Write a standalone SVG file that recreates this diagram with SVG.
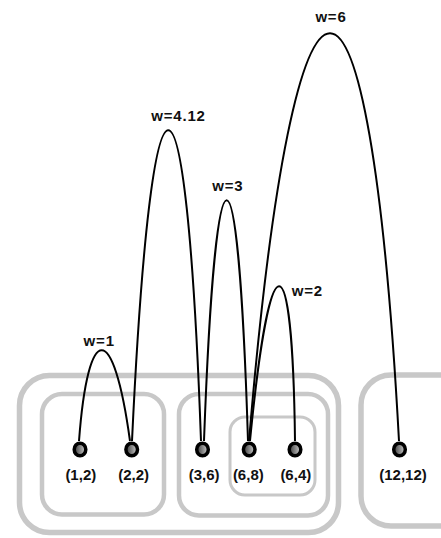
<svg xmlns="http://www.w3.org/2000/svg" width="441" height="538" viewBox="0 0 441 538">
<style>
.grp{fill:none;stroke:#c8c8c8}
.edge{fill:none;stroke:#000;stroke-width:2}
.node{fill:url(#ng);stroke:#000;stroke-width:3.5}
.lbl{font-family:"Liberation Sans",Arial,sans-serif;font-weight:bold;font-size:15px;fill:#111;text-anchor:middle}
.wl{font-family:"Liberation Sans",Arial,sans-serif;font-weight:bold;font-size:15px;fill:#111;letter-spacing:0.8px}
</style>
<defs>
<linearGradient id="ng" x1="0" y1="0" x2="1" y2="0">
<stop offset="0" stop-color="#3a3a3a"/>
<stop offset="1" stop-color="#d0d0d0"/>
</linearGradient>
</defs>
<rect width="441" height="538" fill="#fff"/>
<g id="groups">
<rect id="g-outer" class="grp" x="19.5" y="375.5" width="319" height="157" rx="30" stroke-width="5.5"/>
<rect id="g-right" class="grp" x="361" y="375" width="110" height="151" rx="30" stroke-width="5.5"/>
<rect id="g-left" class="grp" x="42" y="394" width="122" height="120.5" rx="20" stroke-width="4.5" stroke="#cdcdcd"/>
<rect id="g-mid" class="grp" x="179" y="394" width="149" height="121.5" rx="20" stroke-width="4.5" stroke="#cdcdcd"/>
<rect id="g-inner" class="grp" x="230" y="417" width="85" height="78" rx="15" stroke-width="3" stroke="#d2d2d2"/>
</g>
<g id="connectors">
<path class="edge" d="M79,441 C88,320 113.5,320 130,441"/>
<path class="edge" d="M132,441 C151.6,26.7 186.1,26.7 201,441"/>
<path class="edge" d="M204,441 C215.9,120 237.9,120 248,441"/>
<path class="edge" d="M249,441 C294.5,-102.7 369.5,-102.7 399,441"/>
<path class="edge" d="M250,441 C270,234.7 292.5,234.7 295,441"/>
<text class="wl" x="99.2" y="346" text-anchor="middle">w=1</text>
<text class="wl" x="178.5" y="120.7" text-anchor="middle">w=4.12</text>
<text class="wl" x="227.8" y="190.7" text-anchor="middle">w=3</text>
<text class="wl" x="331" y="21.7" text-anchor="middle">w=6</text>
<text class="wl" x="291.7" y="296">w=2</text>
</g>
<g id="n12">
<ellipse class="node" cx="80" cy="449.5" rx="5.8" ry="6.3"/>
<text class="lbl" x="80.8" y="479.5">(1,2)</text>
</g>
<g id="n22">
<ellipse class="node" cx="131.7" cy="449.5" rx="5.8" ry="6.3"/>
<text class="lbl" x="133.7" y="479.5">(2,2)</text>
</g>
<g id="n36">
<ellipse class="node" cx="202.5" cy="449.5" rx="5.8" ry="6.3"/>
<text class="lbl" x="204.2" y="479.5">(3,6)</text>
</g>
<g id="n68">
<ellipse class="node" cx="249.2" cy="449.5" rx="5.8" ry="6.3"/>
<text class="lbl" x="248.3" y="479.5">(6,8)</text>
</g>
<g id="n64">
<ellipse class="node" cx="295" cy="449.5" rx="5.8" ry="6.3"/>
<text class="lbl" x="295.8" y="479.5">(6,4)</text>
</g>
<g id="n1212">
<ellipse class="node" cx="399.5" cy="449.5" rx="5.8" ry="6.3"/>
<text class="lbl" x="403" y="479.5">(12,12)</text>
</g>
</svg>
